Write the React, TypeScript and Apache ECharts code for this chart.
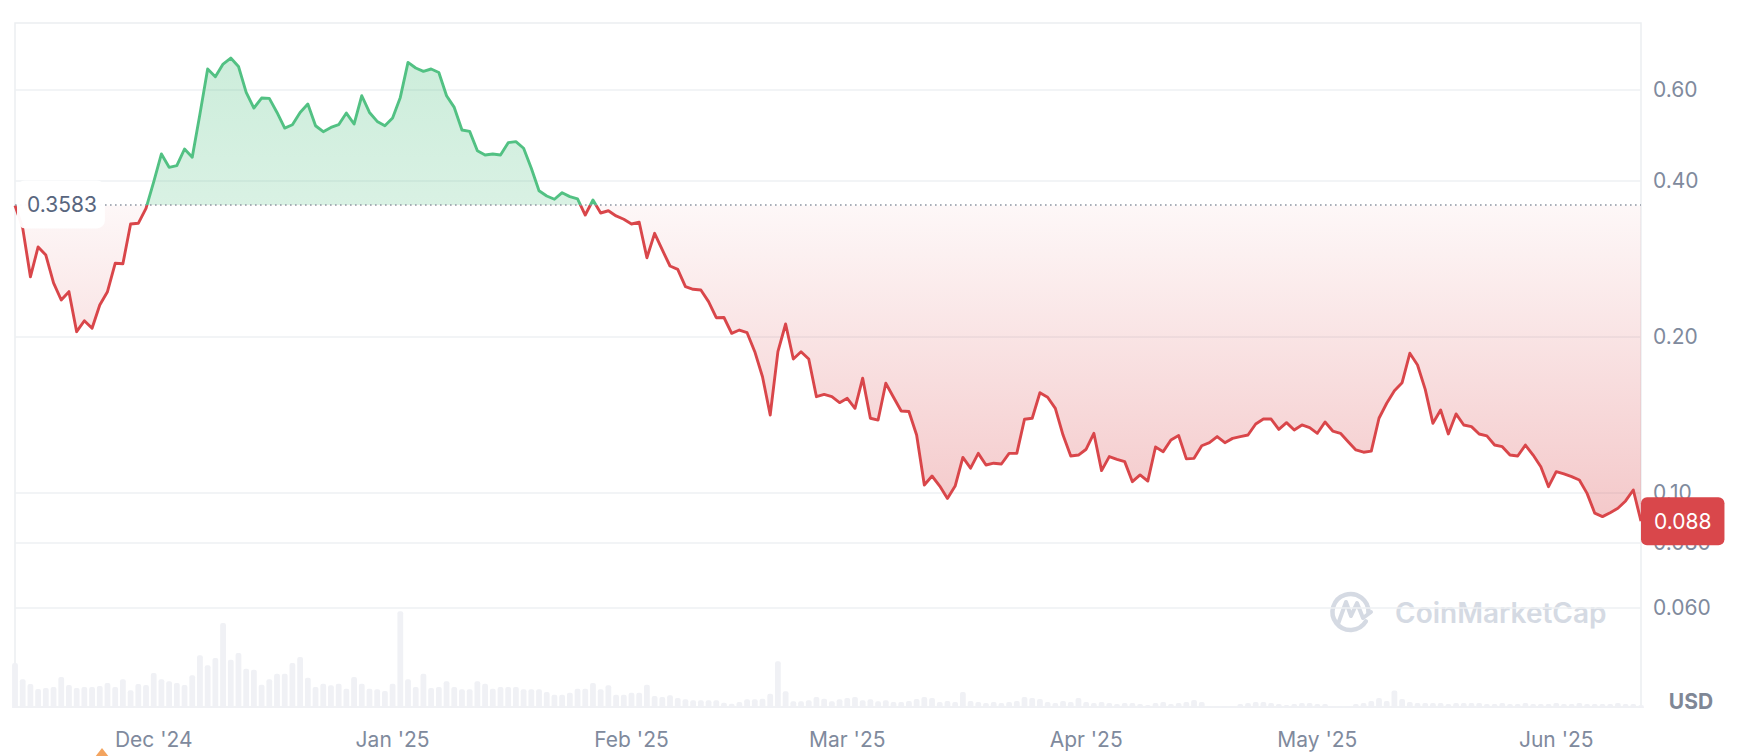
import React, { useEffect, useRef } from 'react';
import * as echarts from 'echarts';

// ---- data ----
const prices: number[] = [
  0.3583, 0.324, 0.261, 0.298, 0.2875, 0.254, 0.2354, 0.2443, 0.2045, 0.2147,
  0.2076, 0.2302, 0.2443, 0.2771, 0.2765, 0.330, 0.331, 0.3538, 0.398, 0.4504,
  0.4245, 0.4276, 0.4605, 0.4438, 0.5379, 0.657, 0.6348, 0.6717, 0.6898, 0.6646,
  0.592, 0.5524, 0.5775, 0.5765, 0.5417, 0.5054, 0.5129, 0.5417, 0.5623, 0.5106,
  0.4972, 0.5068, 0.5129, 0.5402, 0.5145, 0.5834, 0.5417, 0.5205, 0.5106, 0.5284,
  0.5791, 0.6765, 0.6599, 0.65, 0.657, 0.647, 0.5834, 0.5539, 0.501, 0.4979,
  0.457, 0.4484, 0.4504, 0.4484, 0.4736, 0.4757, 0.462, 0.4226, 0.3826, 0.3737,
  0.3683, 0.3792, 0.3726, 0.369, 0.3434, 0.3671, 0.3465, 0.350, 0.342, 0.337,
  0.330, 0.3325, 0.284, 0.3166, 0.294, 0.2738, 0.2698, 0.2498, 0.2469, 0.2461,
  0.2337, 0.2176, 0.2178, 0.203, 0.206, 0.2036, 0.1871, 0.1674, 0.1412, 0.1871,
  0.2116, 0.1811, 0.1871, 0.1811, 0.1532, 0.1548, 0.1532, 0.1492, 0.1521, 0.1455,
  0.1663, 0.1392, 0.1381, 0.1626, 0.1528, 0.1438, 0.1434, 0.1292, 0.1035, 0.1077,
  0.1030, 0.0975, 0.1030, 0.1170, 0.1115, 0.1191, 0.1131, 0.1140, 0.1136, 0.1191,
  0.1191, 0.1386, 0.1392, 0.1559, 0.1528, 0.1455, 0.1292, 0.1177, 0.1182, 0.1213,
  0.1302, 0.1103, 0.1174, 0.1160, 0.1148, 0.1050, 0.1082, 0.1053, 0.1225, 0.1200,
  0.1264, 0.1289, 0.1162, 0.1165, 0.1232, 0.1249, 0.1283, 0.1249, 0.1273, 0.1283,
  0.1292, 0.1357, 0.1387, 0.1387, 0.1325, 0.1365, 0.1321, 0.1351, 0.1335, 0.1302,
  0.1369, 0.1315, 0.1302, 0.1254, 0.1209, 0.1197, 0.1203, 0.1392, 0.1488, 0.1573,
  0.1630, 0.1858, 0.1764, 0.1583, 0.1361, 0.1444, 0.1298, 0.1419, 0.1351, 0.1341,
  0.1298, 0.1287, 0.1236, 0.1227, 0.1182, 0.1177, 0.1236, 0.1182, 0.1122, 0.1027,
  0.1098, 0.1087, 0.1074, 0.1058, 0.0997, 0.0913, 0.0899, 0.0915, 0.0933, 0.0964,
  0.1012, 0.0881,
];

// relative traded volume (height units of the volume panel)
const volumes: number[] = [
  45, 28.7, 24, 19, 20, 21, 31, 23, 20, 21,
  21, 22, 25, 21, 28.7, 17.7, 24, 23, 35, 28.7,
  26.7, 25, 23, 32.7, 52.7, 42.7, 50, 85, 48.3, 55,
  39.3, 38.3, 23.3, 28.7, 34.3, 34.3, 45, 51, 30.3, 21,
  24.3, 22.7, 24.3, 19.3, 31, 24.3, 19.3, 18.7, 17, 24.3,
  96.7, 28.7, 21, 34.3, 20, 21, 26.7, 21, 18.7, 18.7,
  26.7, 24.3, 19.3, 21, 21, 21, 18.7, 18.7, 18.7, 16,
  13.3, 13.3, 15.3, 19.3, 19.3, 25, 18.7, 22.7, 13.3, 13.3,
  15.3, 15.3, 23.3, 12, 11, 12.7, 10, 8.7, 7.7, 7.7,
  7.7, 7.7, 5.3, 4.3, 6, 8.7, 8.7, 9.3, 14.3, 46.7,
  16.7, 6.7, 6.7, 7.7, 11, 9.3, 6.7, 8.7, 10, 11,
  7.7, 8.7, 6.7, 7.7, 6, 6, 7, 9, 11, 10,
  6, 7, 6, 16, 7, 6, 5, 6, 5, 6,
  7, 11, 10, 9, 6, 5, 7, 6, 10, 6,
  5, 6, 5, 4, 5, 5, 4, 3, 5, 6,
  4, 5, 6, 8, 6, 2, 2, 2, 2, 4,
  5, 6, 6, 5, 4, 3, 4, 5, 5, 4,
  4, 2, 2, 2, 4, 5, 7, 10, 7, 17.5,
  9, 6, 5, 5, 5, 5, 4, 5, 5, 5,
  5, 4, 4, 5, 4, 4, 5, 4, 4, 4,
  5, 4, 4, 5, 4, 4, 4, 4, 5, 4,
  4, 3,
];

const firstDay = Date.UTC(2024, 10, 13);
const dates: string[] = prices.map((_, i) =>
  new Date(firstDay + i * 86400000).toISOString().slice(0, 10)
);

const monthTicks = ['2024-12-01', '2025-01-01', '2025-02-01', '2025-03-01', '2025-04-01', '2025-05-01', '2025-06-01'];
const monthTickLabels = ["Dec '24", "Jan '25", "Feb '25", "Mar '25", "Apr '25", "May '25", "Jun '25"];

const yTickValues = [0.6, 0.4, 0.2, 0.1, 0.08, 0.06];
const yTickLabels = ['0.60', '0.40', '0.20', '0.10', '0.080', '0.060'];

const basePrice = 0.3583;
const baseLabel = '0.3583';

const GREEN = '#52c183';
const RED = '#d9464a';
const AXIS_TEXT = '#808a9d';
const FONT = 'Inter';

export default function App() {
  const ref = useRef<HTMLDivElement>(null);

  useEffect(() => {
    if (!ref.current) return;
    const chart = echarts.init(ref.current, undefined, { renderer: 'svg' });

    const logs = prices.map((p) => Math.log10(p));
    const lmax = Math.max(...logs);
    const lmin = Math.min(...logs);
    const fr = (lmax - Math.log10(basePrice)) / (lmax - lmin);

    const lineGrad = new echarts.graphic.LinearGradient(0, 0, 0, 1, [
      { offset: 0, color: GREEN },
      { offset: fr, color: GREEN },
      { offset: fr, color: RED },
      { offset: 1, color: RED },
    ]);
    const areaGrad = new echarts.graphic.LinearGradient(0, 0, 0, 1, [
      { offset: 0, color: 'rgba(82,193,131,0.29)' },
      { offset: fr, color: 'rgba(82,193,131,0.22)' },
      { offset: fr, color: 'rgba(217,71,75,0.04)' },
      { offset: 1, color: 'rgba(217,71,75,0.30)' },
    ]);

    const option: any = {
      animation: false,
      textStyle: { fontFamily: FONT },
      grid: [
        { left: 15, right: 97, top: 23, bottom: 49, show: true, borderColor: '#eceef1', borderWidth: 1.5, backgroundColor: 'transparent' },
        { left: 15, right: 97, top: 608, bottom: 48, show: false },
      ],
      xAxis: [
        { type: 'category', gridIndex: 0, data: dates, boundaryGap: false, show: false },
        {
          type: 'category', gridIndex: 1, data: dates, boundaryGap: false,
          axisLine: { show: false }, axisTick: { show: false }, splitLine: { show: false },
          axisLabel: {
            interval: (_i: number, v: string) => monthTicks.includes(v),
            formatter: (v: string) => {
              const k = monthTicks.indexOf(v);
              return k >= 0 ? monthTickLabels[k] : '';
            },
            color: AXIS_TEXT, fontSize: 21, fontFamily: FONT, margin: 21,
          },
        },
      ],
      yAxis: [
        { type: 'log', logBase: 10, gridIndex: 0, min: 0.03859, max: 0.806, show: false, splitLine: { show: false } },
        { type: 'value', gridIndex: 1, min: 0, max: 100, show: false, splitLine: { show: false } },
      ],
      series: [
        {
          name: 'area', type: 'line', xAxisIndex: 0, yAxisIndex: 0, data: prices,
          symbol: 'none', showSymbol: false, silent: true, z: 2,
          lineStyle: { width: 0, opacity: 0 },
          areaStyle: { origin: basePrice, color: areaGrad, opacity: 1 },
          markLine: {
            silent: true, symbol: 'none', z: 1, animation: false,
            lineStyle: { color: '#eef0f3', width: 1.5, type: 'solid' },
            label: { position: 'end', distance: [12, 0], color: AXIS_TEXT, fontSize: 21, fontFamily: FONT },
            emphasis: { disabled: true },
            data: yTickValues.map((v, i) => ({ yAxis: v, label: { formatter: yTickLabels[i] } })),
          },
        },
        {
          name: 'price', type: 'line', xAxisIndex: 0, yAxisIndex: 0, data: prices,
          symbol: 'none', showSymbol: false, silent: true, z: 3,
          lineStyle: { width: 2.9, color: lineGrad, join: 'round' },
          itemStyle: { color: RED },
          endLabel: {
            show: true, distance: 0,
            formatter: (p: any) => Number(p.value).toFixed(3),
            color: '#ffffff', fontSize: 21, fontFamily: FONT, lineHeight: 24,
            backgroundColor: '#d9474b', padding: [12, 13], borderRadius: 6,
          },
        },
        {
          name: 'base', type: 'line', xAxisIndex: 0, yAxisIndex: 0, data: prices,
          symbol: 'none', showSymbol: false, silent: true, z: 4,
          lineStyle: { opacity: 0, width: 0 },
          markLine: {
            silent: true, symbol: 'none', z: 4, animation: false,
            lineStyle: { color: '#8f96a3', width: 1.6, type: [1.6, 3.4] },
            label: {
              position: 'insideStart', distance: [2, 0], formatter: baseLabel,
              color: '#58667e', fontSize: 21, fontFamily: FONT, lineHeight: 24,
              backgroundColor: 'rgba(255,255,255,0.96)', padding: [15, 8, 9, 10], borderRadius: 8,
            },
            emphasis: { disabled: true },
            data: [{ yAxis: basePrice }],
          },
        },
        {
          name: 'volume', type: 'bar', xAxisIndex: 1, yAxisIndex: 1, data: volumes,
          silent: true, barCategoryGap: '25%', z: 1,
          itemStyle: { color: '#f0f1f5', borderRadius: [2, 2, 0, 0] },
        },
      ],
      graphic: [
        {
          type: 'group', silent: true, z: 0,
          children: [
            {
              type: 'arc',
              shape: { cx: 1350.5, cy: 612, r: 18, startAngle: 0.55, endAngle: Math.PI * 2 + 0.05, clockwise: true },
              style: { stroke: '#d5dae3', lineWidth: 4.5, fill: 'none', lineCap: 'round' },
            },
            {
              type: 'polyline',
              shape: { points: [[1338, 624], [1346, 602], [1351, 616], [1357, 603], [1363, 618], [1371, 612]] },
              style: { stroke: '#d5dae3', lineWidth: 4, fill: 'none', lineJoin: 'round', lineCap: 'round' },
            },
            {
              type: 'text', x: 1395, y: 613,
              style: { text: 'CoinMarketCap', fill: '#d5dae3', font: '600 28px Inter', verticalAlign: 'middle', align: 'left' },
            },
          ],
        },
        {
          type: 'text', x: 1691, y: 701, silent: true,
          style: { text: 'USD', fill: '#7f8796', font: 'bold 21px Inter', align: 'center', verticalAlign: 'middle' },
        },
        {
          type: 'polygon', silent: true,
          shape: { points: [[102, 748], [95, 757], [109, 757]] },
          style: { fill: '#f3a45f' },
        },
      ],
    };

    chart.setOption(option);
    return () => chart.dispose();
  }, []);

  return (
    <div
      ref={ref}
      style={{ position: 'fixed', left: 0, top: 0, width: 1738, height: 756, background: '#ffffff' }}
    />
  );
}
